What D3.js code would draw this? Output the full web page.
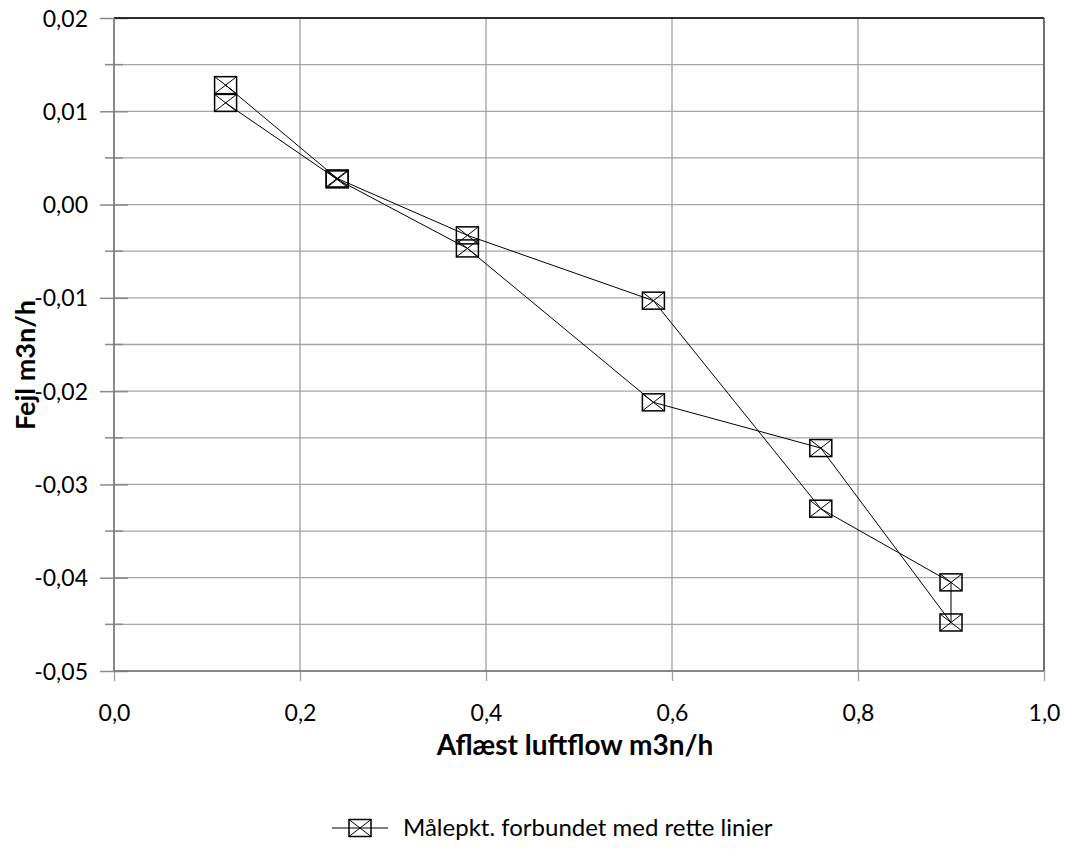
<!DOCTYPE html>
<html><head><meta charset="utf-8">
<script src="https://cdn.jsdelivr.net/npm/d3@7"></script>
<style>body{margin:0;background:#fff}svg{display:block}text{font-family:Lato,"Open Sans",sans-serif}</style>
</head><body>
<svg id="c" width="1065" height="849"></svg>
<script>
const flow  = [0.12, 0.24, 0.38, 0.58, 0.76, 0.90, 0.90, 0.76, 0.58, 0.38, 0.24, 0.12];
const error = [0.0109, 0.0027, -0.0047, -0.0212, -0.0261, -0.0448, -0.0405, -0.0326, -0.0103, -0.0033, 0.0028, 0.0128];
const xTicks = [0, 0.2, 0.4, 0.6, 0.8, 1.0];
const yTicks = [-0.05, -0.04, -0.03, -0.02, -0.01, 0, 0.01, 0.02];
const yMinor = [-0.045, -0.035, -0.025, -0.015, -0.005, 0.005, 0.015];
const xTitle = "Aflæst luftflow m3n/h";
const yTitle = "Fejl m3n/h";
const legendLabel = "Målepkt. forbundet med rette linier";

const L = 114, R = 1044, T = 18, B = 671;
const svg = d3.select("#c");
const x = d3.scaleLinear().domain([0, 1]).range([L, R]);
const y = d3.scaleLinear().domain([-0.05, 0.02]).range([B, T]);
const loc = d3.formatLocale({decimal: ",", thousands: ".", grouping: [3], currency: ["", ""], minus: "-"});
const fx = loc.format(".1f"), fy = loc.format(".2f");

const grid = svg.append("g");
grid.selectAll("line.h").data(yTicks.concat(yMinor)).join("line")
  .attr("x1", L).attr("x2", R).attr("y1", d => y(d)).attr("y2", d => y(d))
  .attr("stroke", "#a6a6a6").attr("stroke-width", 1.3);
grid.selectAll("line.v").data(xTicks).join("line")
  .attr("y1", T).attr("y2", B).attr("x1", d => x(d)).attr("x2", d => x(d))
  .attr("stroke", "#a0a0a0").attr("stroke-width", 1.3);

const yAxis = svg.append("g").attr("transform", `translate(${L},0)`)
  .call(d3.axisLeft(y).tickValues(yTicks).tickFormat(fy).tickSize(14).tickPadding(12));
yAxis.select(".domain").remove();
yAxis.selectAll(".tick line").attr("x2", -14).attr("x1", 14).attr("stroke", "#8a8a8a").attr("stroke-width", 1.5);
yAxis.selectAll(".tick text").attr("x", -26).attr("font-size", 23).attr("fill", "#000")
  .attr("font-family", "Lato").attr("dy", "0.35em");
svg.append("g").selectAll("line").data(yMinor).join("line")
  .attr("x1", L - 9).attr("x2", L + 9).attr("y1", d => y(d)).attr("y2", d => y(d))
  .attr("stroke", "#8a8a8a").attr("stroke-width", 1.5);

const xAxis = svg.append("g").attr("transform", `translate(0,${B})`)
  .call(d3.axisBottom(x).tickValues(xTicks).tickFormat(fx).tickSize(10).tickPadding(24));
xAxis.select(".domain").remove();
xAxis.selectAll(".tick line").attr("stroke", "#a0a0a0").attr("stroke-width", 1.3);
xAxis.selectAll(".tick text").attr("font-size", 23).attr("fill", "#000").attr("font-family", "Lato");

svg.append("line").attr("x1", L).attr("x2", R).attr("y1", T).attr("y2", T).attr("stroke", "#000").attr("stroke-width", 1.3);
svg.append("line").attr("x1", R).attr("x2", R).attr("y1", T).attr("y2", B).attr("stroke", "#555").attr("stroke-width", 1.5);
svg.append("line").attr("x1", L).attr("x2", R).attr("y1", B).attr("y2", B).attr("stroke", "#777").attr("stroke-width", 1.5);
svg.append("line").attr("x1", L).attr("x2", L).attr("y1", T).attr("y2", B).attr("stroke", "#777").attr("stroke-width", 1.5);

const pts = flow.map((f, i) => [f, error[i]]);
svg.append("path").datum(pts)
  .attr("d", d3.line().x(d => x(d[0])).y(d => y(d[1])))
  .attr("fill", "none").attr("stroke", "#000").attr("stroke-width", 1);

const mw = 22, mh = 17;
function marker(g) {
  g.append("rect").attr("x", -mw/2).attr("y", -mh/2).attr("width", mw).attr("height", mh)
    .attr("fill", "none").attr("stroke", "#000").attr("stroke-width", 1.5);
  g.append("path").attr("d", `M${-mw/2},${-mh/2}L${mw/2},${mh/2}M${mw/2},${-mh/2}L${-mw/2},${mh/2}`)
    .attr("stroke", "#000").attr("stroke-width", 1).attr("fill", "none");
}
svg.append("g").selectAll("g").data(pts).join("g")
  .attr("transform", d => `translate(${x(d[0])},${y(d[1])})`)
  .each(function() { marker(d3.select(this)); });

svg.append("text").attr("x", 575).attr("y", 755).attr("text-anchor", "middle")
  .attr("font-size", 28).attr("font-weight", "bold").text(xTitle);
svg.append("text").attr("transform", `translate(35,365) rotate(-90)`)
  .attr("text-anchor", "middle").attr("font-size", 27).attr("font-weight", "bold").text(yTitle);

const lg = svg.append("g").attr("transform", "translate(360,828)");
lg.append("line").attr("x1", -28).attr("x2", 28).attr("stroke", "#000").attr("stroke-width", 1);
marker(lg);
lg.append("text").attr("x", 43).attr("y", 8).attr("font-size", 24).text(legendLabel);
</script>
</body></html>
